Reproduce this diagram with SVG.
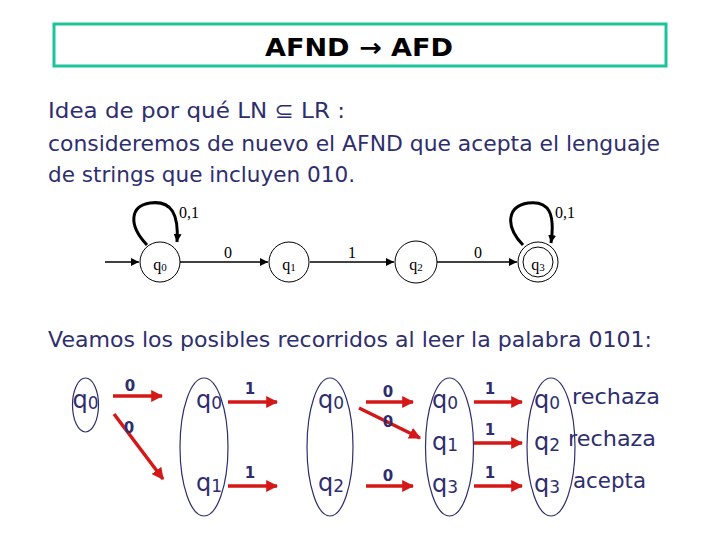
<svg xmlns="http://www.w3.org/2000/svg" width="720" height="540" viewBox="0 0 720 540">
<defs>
<style>
.txt{font-family:"DejaVu Sans","Liberation Sans",sans-serif;fill:#2e2e6e;font-size:21px}
.title{font-family:"DejaVu Sans","Liberation Sans",sans-serif;font-weight:bold;font-size:25px;fill:#000}
.ser{font-family:"Liberation Serif","Times New Roman",serif;font-size:16px;fill:#000}
.st{fill:#fff;stroke:#000;stroke-width:1}
.ed{stroke:#000;stroke-width:1.5;fill:none;marker-end:url(#ah)}
.lp{stroke:#000;stroke-width:3;fill:none;marker-end:url(#ah)}
.el{fill:none;stroke:#2e2e6e;stroke-width:1.2}
.q{font-family:"DejaVu Sans","Liberation Sans",sans-serif;fill:#2e2e6e;font-size:24px;text-anchor:middle}
.lb{font-family:"DejaVu Sans","Liberation Sans",sans-serif;fill:#2e2e6e;font-size:15px;font-weight:bold;text-anchor:middle}
.ra{stroke:#d41818;stroke-width:3.5;fill:none;marker-end:url(#rh)}
</style>
<marker id="ah" viewBox="0 0 10 10" refX="10" refY="5" markerWidth="8" markerHeight="8" markerUnits="userSpaceOnUse" orient="auto"><path d="M0,0 L10,5 L0,10 z" fill="#000"/></marker>
<marker id="rh" viewBox="0 0 10 10" refX="9" refY="5" markerWidth="12" markerHeight="12" markerUnits="userSpaceOnUse" orient="auto"><path d="M0,0 L10,5 L0,10 z" fill="#d41818"/></marker>
</defs>
<rect width="720" height="540" fill="#fff"/>
<g id="title">
<rect x="54" y="24" width="612" height="42" fill="#fff" stroke="#1cc49a" stroke-width="3"/>
<text x="265" y="56" class="title" textLength="188" lengthAdjust="spacingAndGlyphs">AFND → AFD</text>
</g>
<g id="intro">
<text x="48" y="118" class="txt" textLength="297" lengthAdjust="spacingAndGlyphs">Idea de por qué LN ⊆ LR :</text>
<text x="48" y="151" class="txt" textLength="612" lengthAdjust="spacingAndGlyphs">consideremos de nuevo el AFND que acepta el lenguaje</text>
<text x="48" y="182" class="txt" textLength="307" lengthAdjust="spacingAndGlyphs">de strings que incluyen 010.</text>
</g>
<g id="connectors">
<line x1="105" y1="262" x2="139" y2="262" class="ed"/>
<line x1="180" y1="262" x2="268" y2="262" class="ed"/>
<line x1="310" y1="262" x2="394" y2="262" class="ed"/>
<line x1="437" y1="262" x2="517" y2="262" class="ed"/>
<path d="M147,245 C128,225 130,206 150,203 C172,200 179,215 177,242" class="lp"/>
<path d="M523,245 C504,225 508,206 528,203 C550,200 555,215 551,243" class="lp"/>
<text x="228" y="258" class="ser" text-anchor="middle">0</text>
<text x="352" y="258" class="ser" text-anchor="middle">1</text>
<text x="478" y="258" class="ser" text-anchor="middle">0</text>
<text x="189" y="218" class="ser" text-anchor="middle">0,1</text>
<text x="565" y="218" class="ser" text-anchor="middle">0,1</text>
</g>
<g id="q0"><circle cx="160" cy="262" r="20" class="st"/><text x="160" y="270" class="ser" text-anchor="middle">q<tspan font-size="11" dy="1">0</tspan></text></g>
<g id="q1"><circle cx="289" cy="262" r="20" class="st"/><text x="289" y="270" class="ser" text-anchor="middle">q<tspan font-size="11" dy="1">1</tspan></text></g>
<g id="q2"><circle cx="416" cy="262" r="21" class="st"/><text x="416" y="270" class="ser" text-anchor="middle">q<tspan font-size="11" dy="1">2</tspan></text></g>
<g id="q3"><circle cx="538" cy="262" r="20" class="st"/><circle cx="538" cy="262" r="15" class="st"/><text x="538" y="270" class="ser" text-anchor="middle">q<tspan font-size="11" dy="1">3</tspan></text></g>
<text x="48" y="347" class="txt" textLength="604" lengthAdjust="spacingAndGlyphs">Veamos los posibles recorridos al leer la palabra 0101:</text>
<g id="col0"><ellipse cx="85.5" cy="405" rx="13" ry="27" class="el"/><text x="85.5" y="408" class="q">q<tspan font-size="17" dy="1">0</tspan></text></g>
<g id="col1"><ellipse cx="204" cy="447" rx="24" ry="69" class="el"/>
<text x="209" y="408" class="q">q<tspan font-size="17" dy="1">0</tspan></text>
<text x="209" y="491" class="q">q<tspan font-size="17" dy="1">1</tspan></text></g>
<g id="col2"><ellipse cx="330" cy="447" rx="23" ry="69" class="el"/>
<text x="331" y="408" class="q">q<tspan font-size="17" dy="1">0</tspan></text>
<text x="331" y="491" class="q">q<tspan font-size="17" dy="1">2</tspan></text></g>
<g id="col3"><ellipse cx="449.5" cy="447" rx="24" ry="69" class="el"/>
<text x="445" y="408" class="q">q<tspan font-size="17" dy="1">0</tspan></text>
<text x="445" y="450" class="q">q<tspan font-size="17" dy="1">1</tspan></text>
<text x="445" y="492" class="q">q<tspan font-size="17" dy="1">3</tspan></text></g>
<g id="col4"><ellipse cx="551" cy="447" rx="24" ry="69" class="el"/>
<text x="547" y="408" class="q">q<tspan font-size="17" dy="1">0</tspan></text>
<text x="547" y="450" class="q">q<tspan font-size="17" dy="1">2</tspan></text>
<text x="547" y="492" class="q">q<tspan font-size="17" dy="1">3</tspan></text>
<text x="572" y="404" class="txt" textLength="88" lengthAdjust="spacingAndGlyphs">rechaza</text>
<text x="568" y="446" class="txt" textLength="88" lengthAdjust="spacingAndGlyphs">rechaza</text>
<text x="573" y="488" class="txt" textLength="73" lengthAdjust="spacingAndGlyphs">acepta</text></g>
<g id="paths">
<line x1="113" y1="396" x2="162" y2="396" class="ra"/>
<line x1="114" y1="414" x2="163" y2="479" class="ra"/>
<line x1="228" y1="402" x2="277" y2="402" class="ra"/>
<line x1="228" y1="486" x2="277" y2="486" class="ra"/>
<line x1="366" y1="402" x2="413" y2="402" class="ra"/>
<line x1="359" y1="408" x2="420" y2="438" class="ra"/>
<line x1="366" y1="486" x2="413" y2="486" class="ra"/>
<line x1="474" y1="402" x2="522" y2="402" class="ra"/>
<line x1="474" y1="443" x2="522" y2="443" class="ra"/>
<line x1="474" y1="486" x2="522" y2="486" class="ra"/>
<text x="130" y="391" class="lb">0</text>
<text x="129" y="433" class="lb">0</text>
<text x="250" y="394" class="lb">1</text>
<text x="250" y="478" class="lb">1</text>
<text x="388" y="397" class="lb">0</text>
<text x="388" y="427" class="lb">0</text>
<text x="388" y="481" class="lb">0</text>
<text x="490" y="394" class="lb">1</text>
<text x="490" y="435" class="lb">1</text>
<text x="490" y="478" class="lb">1</text>
</g>
</svg>
